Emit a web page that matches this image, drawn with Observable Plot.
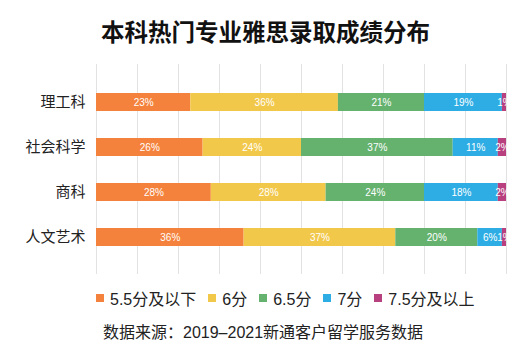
<!DOCTYPE html>
<html><head><meta charset="utf-8">
<script src="https://cdn.jsdelivr.net/npm/d3@7"></script>
<script src="https://cdn.jsdelivr.net/npm/@observablehq/plot@0.6"></script>
<style>
body{margin:0;background:#fff;font-family:"Liberation Sans","Noto Sans CJK SC",sans-serif;width:531px;height:360px;overflow:hidden}
#title{height:50px;line-height:50px;text-align:center;font-size:23.5px;font-weight:bold;color:#111;padding-top:6px;box-sizing:border-box;padding-left:0px;font-family:"Noto Sans CJK SC",sans-serif}
#legend{display:flex;align-items:center;padding-left:96px;height:36px;font-size:16px;color:#222}
#legend .item{display:flex;align-items:center;margin-right:12px}
#legend .sw{width:8px;height:8px;margin-right:6px}
#caption{padding-left:103px;font-size:16px;color:#222;margin-top:3px}
</style></head>
<body>
<div id="title">本科热门专业雅思录取成绩分布</div>
<div id="chart"></div>
<div id="legend"></div>
<div id="caption">数据来源：2019–2021新通客户留学服务数据</div>
<script>
const categories = ["理工科", "社会科学", "商科", "人文艺术"];
const levels = ["5.5分及以下", "6分", "6.5分", "7分", "7.5分及以上"];
const colors = ["#F4823C", "#F2C84B", "#65B26F", "#2DADE4", "#B8407E"];
const v55 = [23, 26, 28, 36];
const v6 = [36, 24, 28, 37];
const v65 = [21, 37, 24, 20];
const v7 = [19, 11, 18, 6];
const v75 = [1, 2, 2, 1];
const gridTicks = [0, 10, 20, 30, 40, 50, 60, 70, 80, 90, 100];

const series = [v55, v6, v65, v7, v75];
const data = [];
levels.forEach((lv, i) => categories.forEach((c, j) => data.push({cat: c, level: lv, value: series[i][j]})));

const chart = Plot.plot({
  width: 531,
  height: 230,
  marginTop: 14,
  marginBottom: 6,
  marginLeft: 96,
  marginRight: 25,
  style: {fontFamily: '"Liberation Sans", "Noto Sans CJK SC", sans-serif', background: "#fff"},
  x: {domain: [0, 100], axis: null},
  y: {domain: categories, padding: 0.6, label: null, tickSize: 0, tickPadding: 11},
  color: {domain: levels, range: colors},
  marks: [
    Plot.ruleX(gridTicks, {stroke: "#e2e2e2", strokeWidth: 1}),
    Plot.barX(data, Plot.stackX({x: "value", y: "cat", fill: "level", z: "level", inset: 0})),
    Plot.text(data, Plot.stackX({x: "value", y: "cat", z: "level", text: d => d.value + "%", fill: "white", fontSize: 10})),
    Plot.axisY({tickSize: 0, tickPadding: 11, fontSize: 15, color: "#222", label: null})
  ]
});
document.getElementById("chart").appendChild(chart);
chart.querySelectorAll('[aria-label="y-axis tick label"] text').forEach(t => t.setAttribute("font-size", 15));

const lg = document.getElementById("legend");
levels.forEach((lv, i) => {
  const it = document.createElement("div");
  it.className = "item";
  it.innerHTML = `<span class="sw" style="background:${colors[i]}"></span><span>${lv}</span>`;
  lg.appendChild(it);
});
</script>
</body></html>
